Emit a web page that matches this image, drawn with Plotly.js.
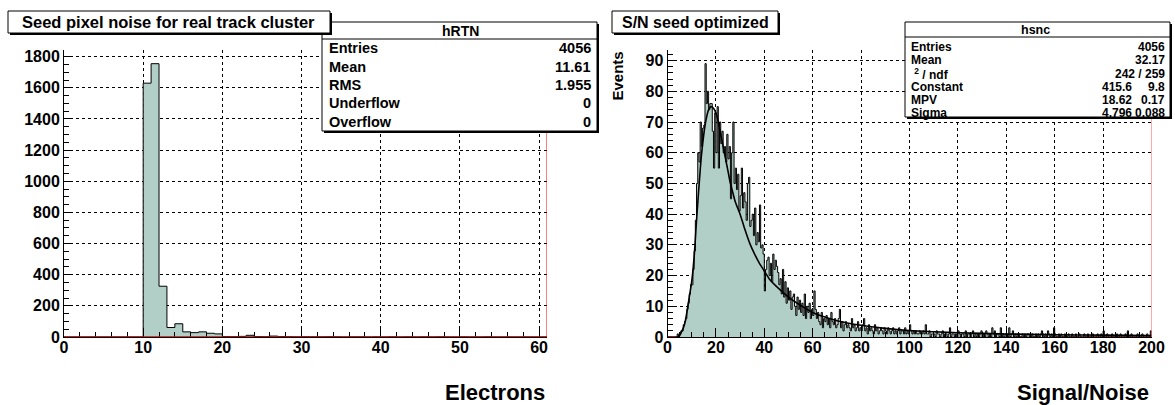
<!DOCTYPE html>
<html><head><meta charset="utf-8">
<script src="https://cdn.plot.ly/plotly-3.0.1.min.js"></script>
<style>body{margin:0;background:#fff}#chart{width:1175px;height:405px}</style>
</head><body><div id="chart"></div>
<script>
// ---------- data ----------
const hRTN_xmin = 0, hRTN_binw = 1;
const hRTN_counts = [
  0,0,0,0,0,0,0,0,0,0,
  1630,1755,326,61,85,33,28,33,24,20,
  3,2,4,11,3,2,6,3,2,1,
  2,1,1,2,1,0,1,1,0,1,
  0,1,0,1,0,1,0,1,0,0,
  1,0,0,1,0,0,0,0,0,0,0
];
const hsnc_xmin = 0, hsnc_binw = 0.5;
const hsnc_counts = [
  0,0,0,0,0,0,0,0,1,0,
  1,2,2,4,5,6,9,11,14,17,
  17,22,28,38,50,60,57,70,62,68,
  69,89,76,80,74,76,76,67,55,73,
  60,75,55,70,63,67,60,62,57,66,
  58,62,45,60,70,50,55,48,53,41,
  46,55,42,47,44,38,50,52,36,38,
  40,33,42,30,34,31,43,29,30,27,
  15,22,25,26,20,24,18,27,22,25,
  23,21,17,19,14,22,13,18,11,16,
  12,15,9,13,14,10,7,13,9,12,
  8,11,7,14,6,10,8,11,6,9,
  7,15,9,6,8,5,4,8,3,6,
  5,7,4,6,3,8,5,4,6,3,
  4,6,9,3,5,2,4,5,3,4,
  3,2,6,3,4,2,3,5,2,3,
  2,4,6,2,3,1,4,2,3,2,
  1,4,2,3,1,2,3,2,1,3,
  2,1,3,2,1,2,3,1,2,1,
  2,3,1,2,2,1,3,1,2,1,
  4,2,1,2,1,2,1,1,2,1,
  1,2,1,4,1,1,2,0,1,1,
  1,0,2,1,1,0,1,2,0,1,
  1,0,1,3,0,1,1,0,1,0,
  2,1,0,1,1,0,2,0,1,1,
  0,1,2,0,1,0,1,0,1,2,
  0,1,0,2,1,0,1,0,3,1,
  2,0,1,1,0,3,0,1,0,1,
  1,0,3,0,1,2,0,1,0,1,
  1,0,0,1,0,1,0,1,1,0,
  0,1,0,0,1,0,1,0,1,2,
  1,0,1,0,2,1,0,1,0,3,
  1,0,0,1,0,1,0,0,1,0,
  0,1,0,0,1,0,0,1,0,0,
  1,0,0,0,1,0,0,1,0,0,
  0,1,0,0,0,1,0,0,1,0,
  2,0,0,1,0,0,0,1,0,0,
  0,1,0,0,1,0,0,0,1,0,
  2,0,0,1,0,0,0,0,1,0,
  0,0,1,0,0,0,1,0,0,2
];
// Landau fit curve
const fit_x = [4,5,6,7,8,9,10,11,12,13,14,15,16,17,18,19,20,21,22,23,24,25,26,27,28,29,30,32,34,36,38,40,42,45,50,55,60,65,70,80,90,100,110,120,140,160,180,200];
const fit_y = [0,0.5,2,4,8,13,18,26,38,49,59,66,71,74,75,74.5,73,70,66,62,58,54,50,47,44,42,40,35,30.5,27,24,21.5,19,16.5,13,10.3,8,6.5,5.3,3.8,2.8,2.1,1.7,1.4,1.0,0.75,0.6,0.5];

const leftTitle = "Seed pixel noise for real track cluster";
const rightTitle = "S/N seed optimized";
const leftXTitle = "Electrons";
const rightXTitle = "Signal/Noise";
const rightYTitle = "Events";
const statsLeftName = "hRTN";
const statsLeftLabels = ["Entries","Mean","RMS","Underflow","Overflow"];
const statsLeftValues = ["4056","11.61","1.955","0","0"];
const statsRightName = "hsnc";
const statsRightLabels = ["Entries","Mean","\u00a0<sup>2</sup> / ndf","Constant","MPV","Sigma"];
const statsRightValues = ["4056","32.17","242 / 259","415.6","18.62","4.796"];
const statsRightErrors = ["","","","9.8","0.17","0.088"];

// ---------- build ----------
const W = 1175, H = 405;
const FILL = 'rgb(177,207,199)';
const FONT = 'Liberation Sans, Arial, Helvetica, sans-serif';

function stepTrace(xmin, bw, counts, xa, ya) {
  const xs = [], ys = [];
  for (let i = 0; i < counts.length; i++) { xs.push(xmin + i * bw); ys.push(counts[i]); }
  xs.push(xmin + counts.length * bw); ys.push(counts[counts.length - 1]);
  xs.push(xmin + counts.length * bw); ys.push(0);
  return {x: xs, y: ys, type: 'scatter', mode: 'lines', line: {shape: 'hv', color: '#000', width: 1},
          fill: 'tozeroy', fillcolor: FILL, xaxis: xa, yaxis: ya, hoverinfo: 'skip'};
}

const traces = [
  stepTrace(hRTN_xmin, hRTN_binw, hRTN_counts, 'x', 'y'),
  stepTrace(hsnc_xmin, hsnc_binw, hsnc_counts, 'x2', 'y2'),
  {x: fit_x, y: fit_y, type: 'scatter', mode: 'lines', line: {color: '#000', width: 1.6, shape: 'spline', smoothing: 0.8},
   xaxis: 'x2', yaxis: 'y2', hoverinfo: 'skip'}
];

const px = x => x / W, py = y => 1 - y / H;

function axis(domain, range, dtick, minor, extra) {
  return Object.assign({
    domain: domain, range: range, dtick: dtick, tick0: 0, ticks: 'inside', ticklen: 9, tickwidth: 1, tickcolor: '#000',
    minor: {dtick: minor, ticks: 'inside', ticklen: 5, tickcolor: '#000', tickwidth: 1, showgrid: false},
    showgrid: true, gridcolor: '#000', griddash: 'dot', gridwidth: 1,
    showline: true, linecolor: '#000', linewidth: 1, zeroline: false,
    tickfont: {family: FONT, size: 16, color: '#000', weight: 'bold'}, fixedrange: true
  }, extra || {});
}

const yDom = [py(337), py(50)];
const layout = {
  width: W, height: H, margin: {l: 0, r: 0, t: 0, b: 0}, showlegend: false,
  paper_bgcolor: '#fff', plot_bgcolor: '#fff',
  xaxis: axis([px(64), px(547)], [0, 61], 10, 2, {anchor: 'y', ticklabelstandoff: -4}),
  yaxis: axis(yDom, [0, 1843], 200, 50, {anchor: 'x'}),
  xaxis2: axis([px(667.5), px(1151.5)], [0, 200], 20, 5, {anchor: 'y2', ticklabelstandoff: -4}),
  yaxis2: axis(yDom, [0, 93.45], 10, 2, {anchor: 'x2'}),
  shapes: [], annotations: []
};

// red frame/function lines
layout.shapes.push({type: 'line', xref: 'x', yref: 'y', x0: 0, x1: 61, y0: 0, y1: 0, line: {color: '#d00', width: 1.5}, layer: 'above'});
layout.shapes.push({type: 'line', xref: 'x', yref: 'y', x0: 61, x1: 61, y0: 0, y1: 1843, line: {color: '#e00', width: 1}, layer: 'above'});
layout.shapes.push({type: 'line', xref: 'x2', yref: 'y2', x0: 0, x1: 200, y0: 0, y1: 0, line: {color: '#d00', width: 1.5}, layer: 'below'});
layout.shapes.push({type: 'line', xref: 'x2', yref: 'y2', x0: 200, x1: 200, y0: 0, y1: 93.45, line: {color: '#f55', width: 1}, layer: 'above'});

function box(x0, y0, x1, y1) {
  layout.shapes.push({type: 'rect', xref: 'paper', yref: 'paper', x0: px(x0 + 2), x1: px(x1 + 2), y0: py(y1 + 2), y1: py(y0 + 2),
    fillcolor: '#000', line: {width: 0}, layer: 'above'});
  layout.shapes.push({type: 'rect', xref: 'paper', yref: 'paper', x0: px(x0), x1: px(x1), y0: py(y1), y1: py(y0),
    fillcolor: '#fff', line: {color: '#000', width: 1}, layer: 'above'});
}
function hline(x0, x1, y) {
  layout.shapes.push({type: 'line', xref: 'paper', yref: 'paper', x0: px(x0), x1: px(x1), y0: py(y), y1: py(y), line: {color: '#000', width: 1}, layer: 'above'});
}
function text(t, x, y, size, xanchor, extra) {
  if (!t) return;
  layout.annotations.push(Object.assign({text: t, xref: 'paper', yref: 'paper', x: px(x), y: py(y), xanchor: xanchor, yanchor: 'middle',
    showarrow: false, font: {family: FONT, size: size, color: '#000', weight: 'bold'}}, extra || {}));
}

// stats boxes
box(322, 22, 597, 131);
hline(322, 597, 39);
text(statsLeftName, 460, 31, 14, 'center');
const lRows = [48, 66.5, 85, 103.5, 122];
statsLeftLabels.forEach((l, i) => { text(l, 327, lRows[i], 14.5, 'left'); text(statsLeftValues[i], 593, lRows[i], 14.5, 'right'); });

box(905, 22, 1170, 117);
hline(905, 1170, 37);
text(statsRightName, 1035, 30, 12.5, 'center');
const rRows = [46.5, 60, 73.5, 87, 100.5, 113];
statsRightLabels.forEach((l, i) => {
  text(l, 909, rRows[i], 12, 'left');
  const hasErr = statsRightErrors[i] !== "";
  text(statsRightValues[i], hasErr ? 1134 : 1167, rRows[i], 12, 'right');
  text(statsRightErrors[i], 1167, rRows[i], 12, 'right');
});

// title boxes (left title drawn over the stats box)
box(8, 11, 330, 33);
text(leftTitle, 168, 22, 16.5, 'center');
box(612, 11, 778, 33);
text(rightTitle, 695, 22, 16, 'center');

// axis titles
text(leftXTitle, 547, 392, 22, 'right');
text(rightXTitle, 1151, 392, 22, 'right');
text(rightYTitle, 617, 50, 15, 'center', {textangle: -90, yanchor: 'top'});

Plotly.newPlot('chart', traces, layout, {staticPlot: true, displayModeBar: false});
</script>
</body></html>
